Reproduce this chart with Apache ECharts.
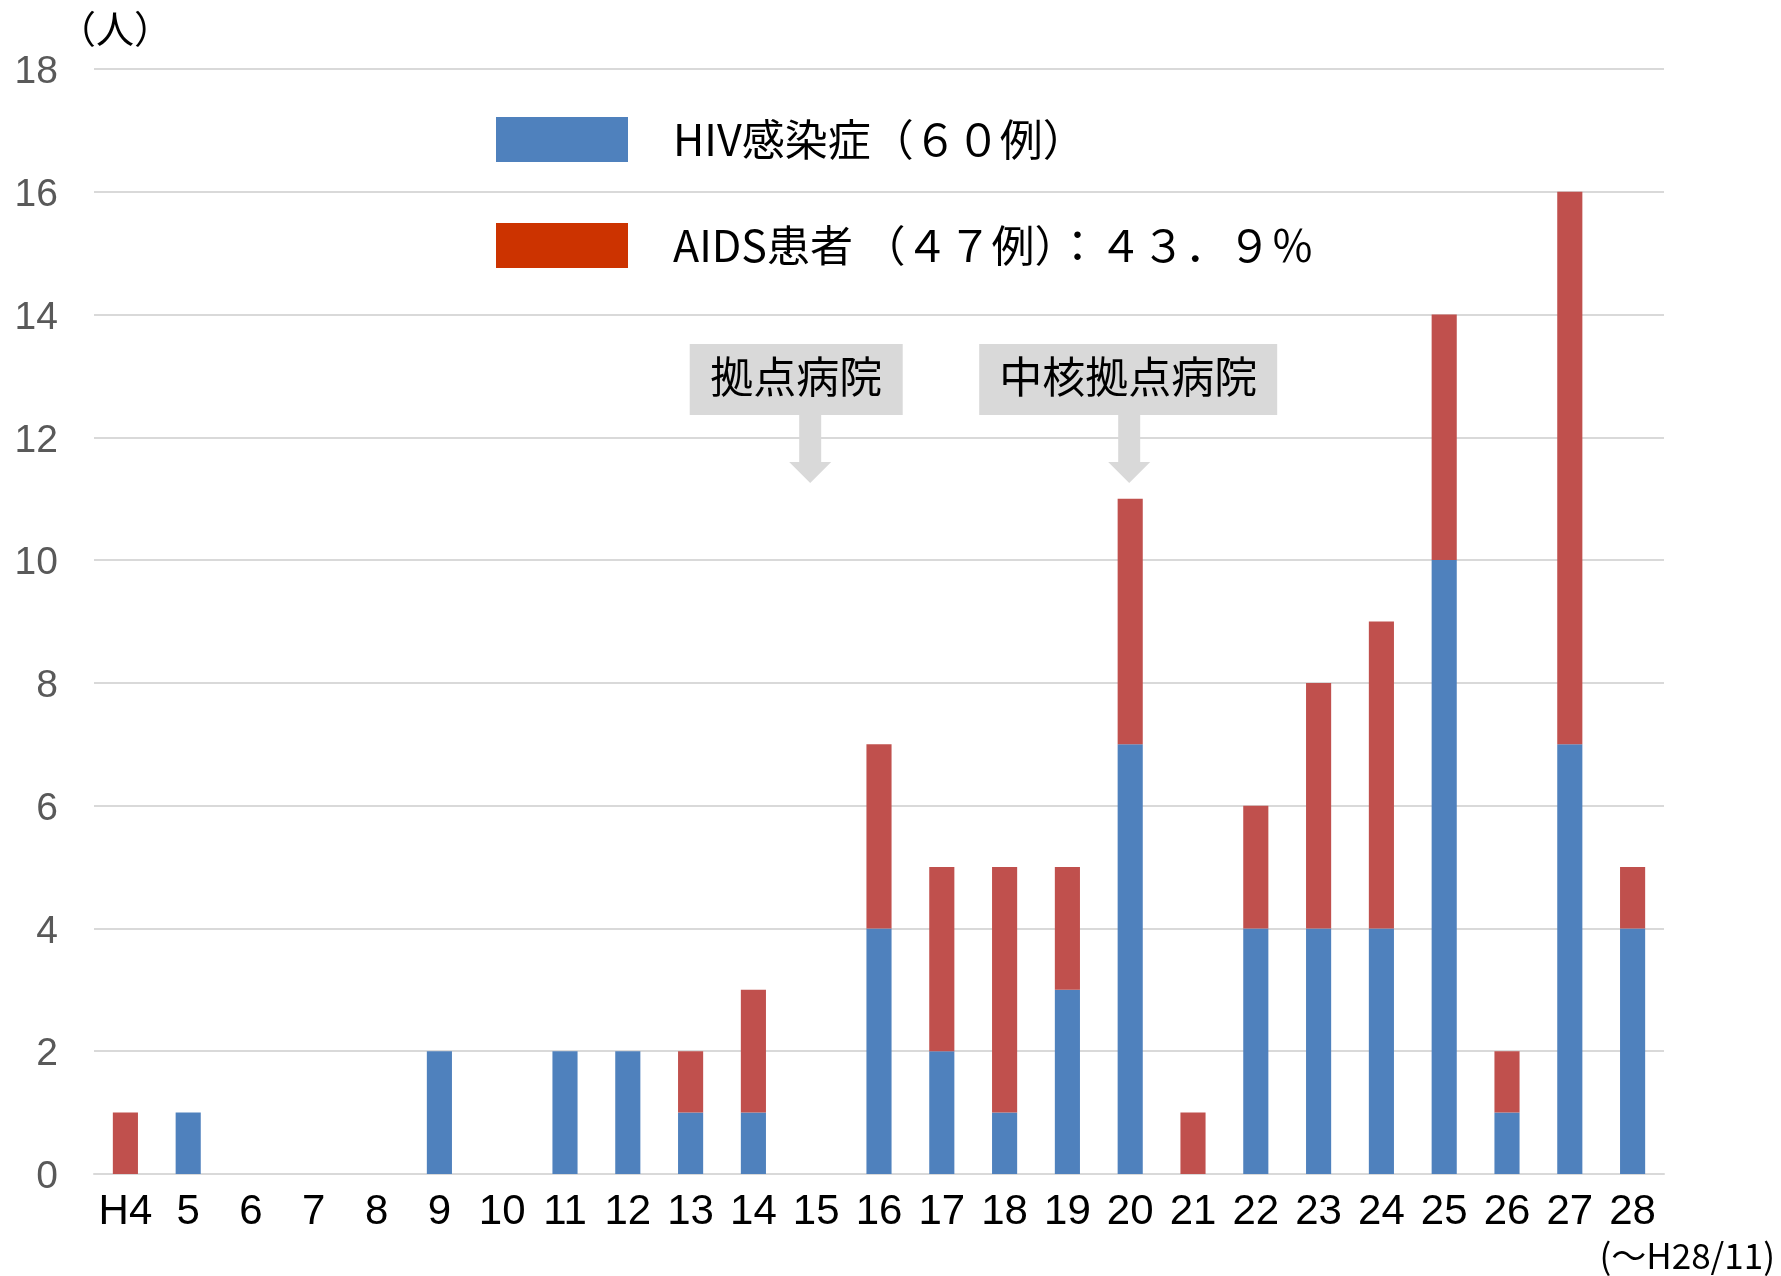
<!DOCTYPE html>
<html>
<head>
<meta charset="utf-8">
<script src="https://cdn.jsdelivr.net/npm/echarts@6/dist/echarts.min.js"></script>
<style>
html,body{margin:0;padding:0;background:#fff;}
#main{width:1781px;height:1276px;}
</style>
</head>
<body>
<div id="main"></div>
<script>
const categories = ['H4','5','6','7','8','9','10','11','12','13','14','15','16','17','18','19','20','21','22','23','24','25','26','27','28'];
const hivValues  = [0,1,0,0,0,2,0,2,2,1,1,0,4,2,1,3,7,0,4,4,4,10,1,7,4];
const aidsValues = [1,0,0,0,0,0,0,0,0,1,2,0,3,3,4,2,4,1,2,4,5,4,1,9,1];
const yTicks = [0,2,4,6,8,10,12,14,16,18];
const hivName = 'HIV感染症（６０例）';
const aidsName = 'AIDS患者 （４７例）：４３．９％';
const annotations = [
  {text:'拠点病院', category:'15', boxWidth:213, offset:-20, arrowShift:-6},
  {text:'中核拠点病院', category:'20', boxWidth:298, offset:-2, arrowShift:-1}
];

const chart = echarts.init(document.getElementById('main'));
const cjk = '"Noto Sans CJK JP", "Noto Sans", sans-serif';
const option = {
  animation:false,
  backgroundColor:'#ffffff',
  grid:{left:94, right:117, top:69, bottom:102, containLabel:false},
  legend:{
    orient:'vertical', left:491, top:112,
    itemWidth:132, itemHeight:45, itemGap:61,
    icon:'rect',
    selectedMode:false,
    textStyle:{fontSize:43, color:'#000', fontFamily:cjk, padding:[0,0,0,40]},
    data:[
      {name:hivName, itemStyle:{color:'#4F81BD'}},
      {name:aidsName, itemStyle:{color:'#CC3300'}}
    ]
  },
  xAxis:{
    type:'category', data:categories,
    axisLine:{lineStyle:{color:'#D9D9D9', width:2}},
    axisTick:{show:false},
    axisLabel:{color:'#000', fontSize:42, fontFamily:'"Liberation Sans", sans-serif', margin:17, interval:0}
  },
  yAxis:{
    type:'value', min:yTicks[0], max:yTicks[yTicks.length-1], interval:2,
    axisLine:{show:false}, axisTick:{show:false},
    splitLine:{lineStyle:{color:'#D9D9D9', width:2}},
    axisLabel:{
      color:'#595959', fontSize:39, fontFamily:'"Liberation Sans", sans-serif', margin:36,
      formatter:'{v|{value}}',
      rich:{v:{color:'#595959', fontSize:39, fontFamily:'"Liberation Sans", sans-serif', padding:[7,0,0,0]}}
    }
  },
  series:[
    {name:hivName, type:'bar', stack:'total', data:hivValues, barWidth:'40%', itemStyle:{color:'#4F81BD'}},
    {name:aidsName, type:'bar', stack:'total', data:aidsValues, barWidth:'40%', itemStyle:{color:'#C0504D'}}
  ]
};
chart.setOption(option);

const graphics = [
  {type:'text', left:58, top:10, style:{text:'（人）', fill:'#000', font:'38px ' + cjk}},
  {type:'text', right:6, top:1238, style:{text:'(～H28/11)', fill:'#000', font:'35px ' + cjk}}
];
annotations.forEach(a => {
  const cx = chart.convertToPixel({xAxisIndex:0}, a.category);
  const x = cx + a.arrowShift;
  const bx = cx + a.offset - a.boxWidth/2;
  graphics.push({type:'rect', shape:{x:bx, y:344, width:a.boxWidth, height:71}, style:{fill:'#D9D9D9'}, silent:true});
  graphics.push({type:'text', x:bx + a.boxWidth/2, y:377, style:{text:a.text, font:'43px ' + cjk, fill:'#000', textAlign:'center', textVerticalAlign:'middle'}});
  graphics.push({type:'polygon', shape:{points:[[x-11,415],[x+11,415],[x+11,462],[x+21,462],[x,483],[x-21,462],[x-11,462]]}, style:{fill:'#D9D9D9'}, silent:true});
});
chart.setOption({graphic:graphics});
</script>
</body>
</html>
